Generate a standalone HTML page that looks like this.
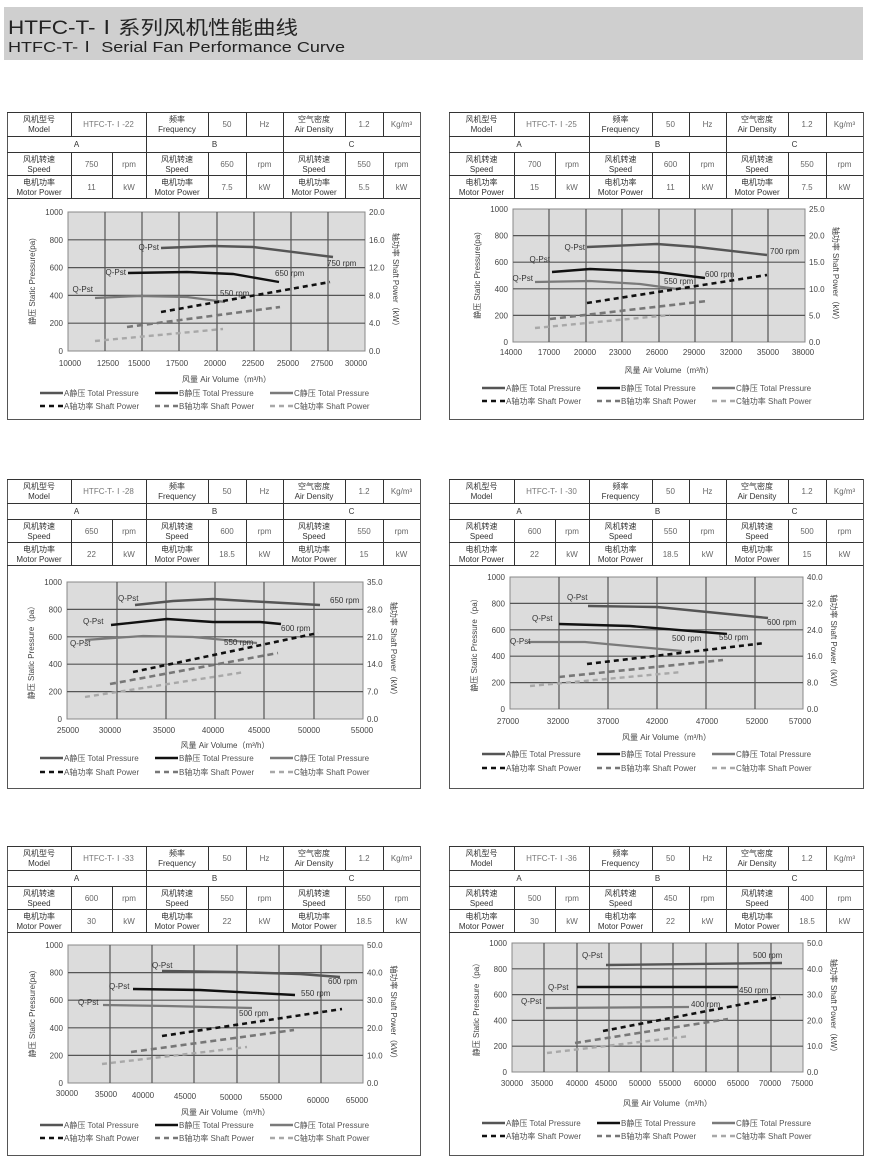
<!DOCTYPE html>
<html><head><meta charset="utf-8">
<style>
html,body{margin:0;padding:0;background:#fff;}
svg{display:block;}
text{font-family:"Liberation Sans","Noto Sans CJK SC",sans-serif;}
</style></head>
<body>
<svg id="s" width="870" height="1165" viewBox="0 0 870 1165" xmlns="http://www.w3.org/2000/svg">
<rect x="4" y="7" width="859" height="53" fill="#cfcfcf"/>
<text x="8" y="34" font-size="19" fill="#222" textLength="290" lengthAdjust="spacingAndGlyphs">HTFC-T-Ⅰ系列风机性能曲线</text>
<text x="8" y="52" font-size="15" fill="#222" textLength="337" lengthAdjust="spacingAndGlyphs">HTFC-T-Ⅰ Serial  Fan Performance Curve</text>
</svg>
<script>
var S=document.getElementById('s'),NS='http://www.w3.org/2000/svg';
function el(t,a,txt){var e=document.createElementNS(NS,t);for(var k in a)e.setAttribute(k,a[k]);if(txt!==undefined)e.textContent=txt;S.appendChild(e);return e;}
function tx(x,y,s,o){o=o||{};var a={x:x,y:y,'font-size':o.fs||8,fill:o.fill||'#444','text-anchor':o.a||'middle'};if(o.tr)a.transform=o.tr;return el('text',a,s);}
function poly(pts,st,w,da){var a={points:pts.map(function(p){return p.join(',')}).join(' '),fill:'none',stroke:st,'stroke-width':w};if(da)a['stroke-dasharray']=da;el('polyline',a);}
var P=[
{ox:7,oy:112,bot:419,cols:[7,71,112,146,208,246,283,345,383,420],model:'HTFC-T-Ⅰ-22',sp:['750','650','550'],pw:['11','7.5','5.5'],
 px:[68,365],py:[212,351],gx:[105,142,179,217,254,291,328],xl:[['10000',70],['12500',108],['15000',139],['17500',177],['20000',215],['22500',253],['25000',288],['27500',322],['30000',356]],xly:366,
 yr:['20.0','16.0','12.0','8.0','4.0','0.0'],tty:382,lg:[396,409],
 A:[[161,248],[213,246],[253,247],[333,257]],B:[[128,273],[187,272],[233,274],[279,282]],C:[[95,298],[140,296],[187,297],[225,302]],
 As:[[161,312],[330,282]],Bs:[[127,327],[280,307]],Cs:[[95,341],[223,329]],
 q:[[160,250],[128,275],[95,292]],r:[['750 rpm',327,266],['650 rpm',275,276],['550 rpm',220,296]],yt:'静压 Static Pressure(pa)'},
{ox:449,oy:112,bot:419,cols:[449,514,555,589,652,689,726,788,826,863],model:'HTFC-T-Ⅰ-25',sp:['700','600','550'],pw:['15','11','7.5'],
 px:[513,805],py:[209,342],gx:[549,586,622,659,695,732,768],xl:[['14000',511],['17000',549],['20000',585],['23000',620],['26000',657],['29000',694],['32000',731],['35000',768],['38000',803]],xly:355,
 yr:['25.0','20.0','15.0','10.0','5.0','0.0'],tty:373,lg:[391,404],
 A:[[587,247],[657,244],[697,247],[767,255]],B:[[552,272],[590,269],[657,272],[705,278]],C:[[535,282],[590,281],[640,284],[677,289]],
 As:[[587,303],[767,275]],Bs:[[550,319],[707,301]],Cs:[[535,328],[670,315]],
 q:[[587,250],[550,262],[535,281]],r:[['700 rpm',770,254],['600 rpm',705,277],['550 rpm',664,284]],yt:'静压 Static Pressure(pa)'},
{ox:7,oy:479,bot:788,cols:[7,71,112,146,208,246,283,345,383,420],model:'HTFC-T-Ⅰ-28',sp:['650','600','550'],pw:['22','18.5','15'],
 px:[67,363],py:[582,719],gx:[117,166,215,264,314],xl:[['25000',68],['30000',110],['35000',164],['40000',213],['45000',259],['50000',309],['55000',362]],xly:733,
 yr:['35.0','28.0','21.0','14.0','7.0','0.0'],tty:748,lg:[761,775],
 A:[[135,605],[173,601],[213,599],[247,601],[320,605]],B:[[111,625],[167,619],[213,622],[260,622],[281,624]],C:[[85,640],[143,636],[193,637],[257,643]],
 As:[[133,672],[318,633]],Bs:[[110,684],[278,653]],Cs:[[85,697],[245,672]],
 q:[[118,601,'s'],[83,624,'s'],[70,646,'s']],r:[['650 rpm',330,603],['600 rpm',281,631],['550 rpm',224,645]],yt:'静压 Static Pressure（pa）'},
{ox:449,oy:479,bot:788,cols:[449,514,555,589,652,689,726,788,826,863],model:'HTFC-T-Ⅰ-30',sp:['600','550','500'],pw:['22','18.5','15'],
 px:[510,803],py:[577,709],gx:[559,608,657,706,755],xl:[['27000',508],['32000',558],['37000',608],['42000',657],['47000',707],['52000',757],['57000',800]],xly:724,
 yr:['40.0','32.0','24.0','16.0','8.0','0.0'],tty:740,lg:[757,771],
 A:[[588,606],[657,607],[768,618]],B:[[559,624],[630,626],[727,634]],C:[[528,642],[585,642],[682,651]],
 As:[[587,664],[765,643]],Bs:[[559,677],[723,660]],Cs:[[530,686],[682,672]],
 q:[[567,600,'s'],[532,621,'s'],[510,644,'s']],r:[['600 rpm',767,625],['550 rpm',719,640],['500 rpm',672,641]],yt:'静压 Static Pressure（pa）'},
{ox:7,oy:846,bot:1155,cols:[7,71,112,146,208,246,283,345,383,420],model:'HTFC-T-Ⅰ-33',sp:['600','550','550'],pw:['30','22','18.5'],
 px:[68,363],py:[945,1083],gx:[110,152,194,237,279,321],xl:[['30000',67,1096],['35000',106,1097],['40000',143,1098],['45000',185,1099],['50000',231,1100],['55000',271,1100],['60000',318,1103],['65000',357,1103]],xly:1098,
 yr:['50.0','40.0','30.0','20.0','10.0','0.0'],tty:1115,lg:[1128,1141],
 A:[[162,971],[233,972],[300,974],[340,977]],B:[[133,989],[200,990],[295,995]],C:[[103,1005],[167,1006],[252,1008]],
 As:[[162,1036],[342,1009]],Bs:[[131,1052],[294,1030]],Cs:[[102,1064],[247,1047]],
 q:[[152,968,'s'],[109,989,'s'],[78,1005,'s']],r:[['600 rpm',328,984],['550 rpm',301,996],['500 rpm',239,1016]],yt:'静压 Static Pressure(pa)'},
{ox:449,oy:846,bot:1155,cols:[449,514,555,589,652,689,726,788,826,863],model:'HTFC-T-Ⅰ-36',sp:['500','450','400'],pw:['30','22','18.5'],
 px:[512,803],py:[943,1072],gx:[544,577,609,641,673,706,738,771],xl:[['30000',512],['35000',542],['40000',577],['45000',606],['50000',640],['55000',670],['60000',705],['65000',738],['70000',770],['75000',802]],xly:1086,
 yr:['50.0','40.0','30.0','20.0','10.0','0.0'],tty:1106,lg:[1126,1139],
 A:[[606,965],[782,963]],B:[[577,987],[738,987]],C:[[546,1008],[689,1007]],
 As:[[603,1031],[780,997]],Bs:[[575,1043],[728,1019]],Cs:[[547,1053],[690,1036]],
 q:[[582,958,'s'],[548,990,'s'],[521,1004,'s']],r:[['500 rpm',753,958],['450 rpm',739,993],['400 rpm',691,1007]],yt:'静压 Static Pressure（pa）'}
];
P.forEach(function(p){
 var c=p.cols,y=p.oy,rows=[y,y+24,y+40,y+63,y+86];
 el('rect',{x:c[0]+0.5,y:y+0.5,width:c[9]-c[0],height:p.bot-y,fill:'#fff',stroke:'#555','stroke-width':1});
 rows.forEach(function(r){el('line',{x1:c[0],x2:c[9],y1:r+0.5,y2:r+0.5,stroke:'#333','stroke-width':1});});
 [1,3,4,5,6,7,8].forEach(function(i){el('line',{x1:c[i]+0.5,x2:c[i]+0.5,y1:rows[0],y2:rows[1],stroke:'#333'});});
 [1,2,3,4,5,6,7,8].forEach(function(i){el('line',{x1:c[i]+0.5,x2:c[i]+0.5,y1:rows[2],y2:rows[4],stroke:'#333'});});
 [3,6].forEach(function(i){el('line',{x1:c[i]+0.5,x2:c[i]+0.5,y1:rows[1],y2:rows[2],stroke:'#333'});});
 function cell(i,j,r,t1,t2,col){var cx=(c[i]+c[j])/2;if(t2){tx(cx,rows[r]+10,t1,{fill:col||'#333'});tx(cx,rows[r]+20,t2,{fill:col||'#333'});}else tx(cx,rows[r]+15,t1,{fill:col||'#666'});}
 cell(0,1,0,'风机型号','Model');cell(1,3,0,p.model,null,'#777');cell(3,4,0,'频率','Frequency');cell(4,5,0,'50');cell(5,6,0,'Hz');
 cell(6,7,0,'空气密度','Air Density');cell(7,8,0,'1.2');cell(8,9,0,'Kg/m³');
 tx((c[0]+c[3])/2,rows[1]+11,'A',{fill:'#333'});tx((c[3]+c[6])/2,rows[1]+11,'B',{fill:'#333'});tx((c[6]+c[9])/2,rows[1]+11,'C',{fill:'#333'});
 for(var k=0;k<3;k++){var b=k*3;cell(b,b+1,2,'风机转速','Speed');cell(b+1,b+2,2,p.sp[k]);cell(b+2,b+3,2,'rpm');
  cell(b,b+1,3,'电机功率','Motor Power');cell(b+1,b+2,3,p.pw[k]);cell(b+2,b+3,3,'kW');}
 var x0=p.px[0],x1=p.px[1],y0=p.py[0],y1=p.py[1];
 el('rect',{x:x0,y:y0,width:x1-x0,height:y1-y0,fill:'#dcdcdc',stroke:'#888','stroke-width':1});
 for(var i=1;i<5;i++){var yy=y0+(y1-y0)*i/5;el('line',{x1:x0,x2:x1,y1:yy,y2:yy,stroke:'#555','stroke-width':1.2});}
 p.gx.forEach(function(g){el('line',{x1:g,x2:g,y1:y0,y2:y1,stroke:'#555','stroke-width':1.2});});
 ['1000','800','600','400','200','0'].forEach(function(l,i){tx(x0-5,y0+(y1-y0)*i/5+3,l,{a:'end'});});
 p.yr.forEach(function(l,i){tx(x1+4,y0+(y1-y0)*i/5+3,l,{a:'start'});});
 p.xl.forEach(function(l){tx(l[1],l[2]||p.xly,l[0]);});
 var ym=(y0+y1)/2;
 tx(x0-33,ym,p.yt,{tr:'rotate(-90 '+(x0-33)+' '+ym+')'});
 tx(x1+28,ym,'轴功率 Shaft Power（kW）',{tr:'rotate(90 '+(x1+28)+' '+ym+')'});
 tx((x0+x1)/2+10,p.tty,'风量 Air Volume（m³/h）');
 poly(p.C,'#7a7a7a',2.2);poly(p.B,'#111',2.4);poly(p.A,'#555',2.4);
 poly(p.Cs,'#a8a8a8',2.4,'5,4');poly(p.Bs,'#777',2.6,'6,4');poly(p.As,'#111',2.6,'5,4');
 p.q.forEach(function(q,i){var L=[p.A,p.B,p.C][i][0];tx(q[2]?q[0]:L[0]-2,q[1],'Q-Pst',{a:q[2]?'start':'end',fill:'#333'});});
 p.r.forEach(function(r){tx(r[1],r[2],r[0],{a:'start',fill:'#333'});});
 var lx=c[0]+33,st=[[0,'#555',2.4,null,'A静压 Total Pressure'],[115,'#111',2.4,null,'B静压 Total Pressure'],[230,'#7a7a7a',2.4,null,'C静压 Total Pressure']];
 st.forEach(function(s){poly([[lx+s[0],p.lg[0]-3],[lx+s[0]+23,p.lg[0]-3]],s[1],s[2]);tx(lx+s[0]+24,p.lg[0],s[4],{a:'start',fill:'#555'});});
 var ds=[[0,'#111','A轴功率 Shaft Power'],[115,'#777','B轴功率 Shaft Power'],[230,'#a8a8a8','C轴功率 Shaft Power']];
 ds.forEach(function(s){poly([[lx+s[0],p.lg[1]-3],[lx+s[0]+23,p.lg[1]-3]],s[1],2.4,'5,4');tx(lx+s[0]+24,p.lg[1],s[2],{a:'start',fill:'#555'});});
});
</script>
</body></html>
